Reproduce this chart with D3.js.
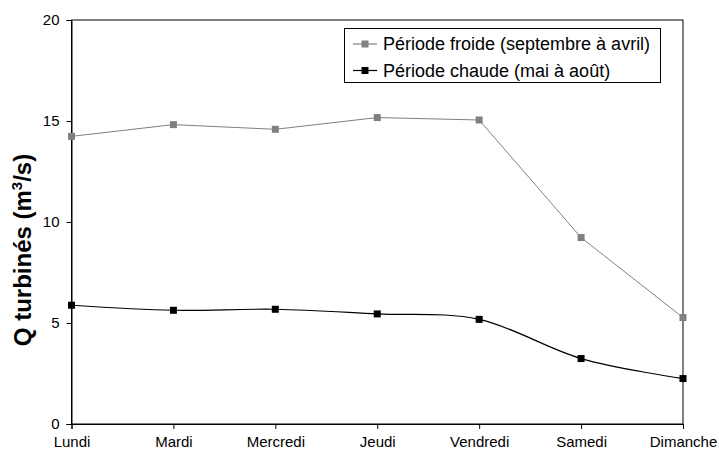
<!DOCTYPE html>
<html>
<head>
<meta charset="utf-8">
<script src="https://cdn.jsdelivr.net/npm/d3@7"></script>
<style>
  body { margin: 0; background: #fff; }
  svg text { font-family: "Liberation Sans", Arial, sans-serif; fill: #000; }
</style>
</head>
<body>
<div id="chart"></div>
<script>
// chart values
var days = ["Lundi", "Mardi", "Mercredi", "Jeudi", "Vendredi", "Samedi", "Dimanche"];
var froide = [14.24, 14.82, 14.59, 15.17, 15.05, 9.23, 5.27];
var chaude = [5.88, 5.63, 5.68, 5.45, 5.18, 3.24, 2.25];
var yTicks = [0, 5, 10, 15, 20];
var seriesNames = ["Période froide (septembre à avril)", "Période chaude (mai à août)"];

var svgWidth = 719;
var svgHeight = 455;

var margin = {
  top: 20,
  bottom: 31,
  right: 36,
  left: 71.5
};

var width = svgWidth - margin.left - margin.right;
var height = svgHeight - margin.top - margin.bottom;

var svg = d3.select("#chart")
  .append("svg")
  .attr("width", svgWidth)
  .attr("height", svgHeight);

var chartGroup = svg.append("g")
  .attr("transform", `translate(${margin.left}, ${margin.top})`);

// scales
var xScale = d3.scalePoint()
  .domain(days)
  .range([0, width]);

var yScale = d3.scaleLinear()
  .domain([0, 20])
  .range([height, 0]);

// plot area frame
chartGroup.append("rect")
  .attr("x", 0)
  .attr("y", 0)
  .attr("width", width)
  .attr("height", height)
  .attr("fill", "none")
  .attr("stroke", "#000")
  .attr("stroke-width", 1);

// axes
var xAxis = d3.axisBottom(xScale).tickSize(5).tickPadding(7);
var yAxis = d3.axisLeft(yScale).tickValues(yTicks).tickSize(5).tickPadding(7);

var xg = chartGroup.append("g")
  .attr("transform", `translate(0, ${height})`)
  .call(xAxis);

var yg = chartGroup.append("g")
  .call(yAxis);

[xg, yg].forEach(function(g) {
  g.selectAll("text").attr("font-size", 15).attr("font-family", null);
  g.selectAll("line, path").attr("stroke", "#000");
  g.attr("font-family", null);
});

// y axis title
var yTitle = svg.append("text")
  .attr("transform", `translate(31, 250) rotate(-90)`)
  .attr("text-anchor", "middle")
  .attr("font-size", 24)
  .attr("font-weight", "bold");
yTitle.append("tspan").text("Q turbinés (m");
yTitle.append("tspan").attr("font-size", 15).attr("dy", -9).text("3");
yTitle.append("tspan").attr("dy", 9).text("/s)");

// lines
var lineStraight = d3.line()
  .x((d, i) => xScale(days[i]))
  .y(d => yScale(d));

var lineSmooth = d3.line()
  .x((d, i) => xScale(days[i]))
  .y(d => yScale(d))
  .curve(d3.curveCardinal.tension(0));

chartGroup.append("path")
  .datum(froide)
  .attr("d", lineStraight)
  .attr("fill", "none")
  .attr("stroke", "#808080")
  .attr("stroke-width", 1);

chartGroup.append("path")
  .datum(chaude)
  .attr("d", lineSmooth)
  .attr("fill", "none")
  .attr("stroke", "#000")
  .attr("stroke-width", 1.2);

// markers
var ms = 7;
chartGroup.selectAll(".m-froide")
  .data(froide)
  .enter()
  .append("rect")
  .attr("class", "m-froide")
  .attr("x", (d, i) => xScale(days[i]) - ms / 2)
  .attr("y", d => yScale(d) - ms / 2)
  .attr("width", ms)
  .attr("height", ms)
  .attr("fill", "#808080");

chartGroup.selectAll(".m-chaude")
  .data(chaude)
  .enter()
  .append("rect")
  .attr("class", "m-chaude")
  .attr("x", (d, i) => xScale(days[i]) - ms / 2)
  .attr("y", d => yScale(d) - ms / 2)
  .attr("width", ms)
  .attr("height", ms)
  .attr("fill", "#000");

// legend
var legend = svg.append("g")
  .attr("transform", "translate(344.5, 28.5)");

legend.append("rect")
  .attr("width", 316)
  .attr("height", 54)
  .attr("fill", "#fff")
  .attr("stroke", "#000");

var legendColors = ["#808080", "#000"];
seriesNames.forEach(function(name, i) {
  var cy = 15.5 + i * 26.5;
  legend.append("line")
    .attr("x1", 8.5).attr("x2", 32.5)
    .attr("y1", cy).attr("y2", cy)
    .attr("stroke", legendColors[i])
    .attr("stroke-width", 1.2);
  legend.append("rect")
    .attr("x", 20.5 - ms / 2)
    .attr("y", cy - ms / 2)
    .attr("width", ms)
    .attr("height", ms)
    .attr("fill", legendColors[i]);
  legend.append("text")
    .attr("x", 38.5)
    .attr("y", cy)
    .attr("dy", "0.35em")
    .attr("font-size", 18)
    .text(name);
});
</script>
</body>
</html>
